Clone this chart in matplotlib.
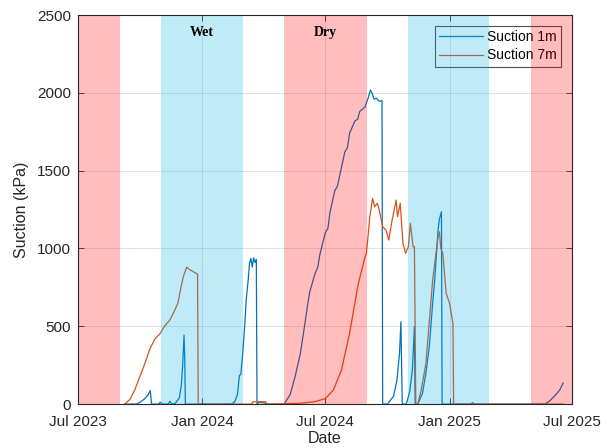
import matplotlib
matplotlib.use("Agg")
import matplotlib.pyplot as plt
import pandas as pd

# ---------------- data ----------------
s1_dates = ["2023-09-08", "2023-09-26", "2023-10-02", "2023-10-08", "2023-10-13", "2023-10-16",
            "2023-10-18", "2023-10-28", "2023-10-31", "2023-11-03", "2023-11-12", "2023-11-14",
            "2023-11-17", "2023-11-22", "2023-11-28", "2023-12-01", "2023-12-03", "2023-12-05",
            "2023-12-06", "2023-12-07", "2024-02-13", "2024-02-18", "2024-02-22", "2024-02-25",
            "2024-02-27", "2024-03-01", "2024-03-04", "2024-03-06", "2024-03-09", "2024-03-11",
            "2024-03-13", "2024-03-15", "2024-03-17", "2024-03-19", "2024-03-21", "2024-03-22",
            "2024-03-25", "2024-04-02", "2024-04-05", "2024-05-01", "2024-05-10", "2024-05-17",
            "2024-05-25", "2024-06-01", "2024-06-05", "2024-06-08", "2024-06-16", "2024-06-20",
            "2024-06-23", "2024-07-01", "2024-07-05", "2024-07-08", "2024-07-15", "2024-07-19",
            "2024-07-23", "2024-07-30", "2024-08-03", "2024-08-06", "2024-08-14", "2024-08-18",
            "2024-08-21", "2024-08-29", "2024-09-02", "2024-09-06", "2024-09-09", "2024-09-11",
            "2024-09-15", "2024-09-19", "2024-09-23", "2024-09-24", "2024-10-01", "2024-10-10",
            "2024-10-15", "2024-10-19", "2024-10-21", "2024-10-23", "2024-10-29", "2024-11-03",
            "2024-11-07", "2024-11-10", "2024-11-11", "2024-11-15", "2024-11-22", "2024-11-27",
            "2024-12-02", "2024-12-07", "2024-12-10", "2024-12-15", "2024-12-17", "2024-12-20",
            "2024-12-21", "2025-02-02", "2025-02-04", "2025-02-06", "2025-05-22", "2025-05-29",
            "2025-06-05", "2025-06-13", "2025-06-18"]
s1_vals = [0, 0, 15, 35, 60, 88,
           0, 0, 12, 0, 0, 18,
           0, 5, 40, 120, 250, 443,
           300, 0, 0, 15, 60, 185,
           190, 330, 520, 668, 800, 906,
           935, 880, 940, 910, 930, 0,
           10, 8, 0, 0, 60, 170,
           320, 520, 640, 720, 840, 880,
           960, 1100, 1130, 1230, 1370, 1400,
           1480, 1620, 1650, 1740, 1820, 1830,
           1880, 1910, 1960, 2018, 1990, 1960,
           1965, 1945, 1950, 0, 0, 50,
           150, 330, 529, 0, 0, 80,
           220, 497, 0, 0, 70, 200,
           368, 650, 797, 1118, 1190, 1236,
           0, 0, 10, 0, 0, 20,
           50, 90, 135]

s7_dates = ["2023-09-08", "2023-09-16", "2023-09-23", "2023-09-30", "2023-10-08", "2023-10-15",
            "2023-10-23", "2023-10-30", "2023-11-06", "2023-11-14", "2023-11-21", "2023-11-26",
            "2023-11-30", "2023-12-04", "2023-12-09", "2023-12-13", "2023-12-19", "2023-12-25",
            "2023-12-26", "2024-03-14", "2024-03-16", "2024-04-04", "2024-04-05", "2024-05-24",
            "2024-06-15", "2024-07-01", "2024-07-13", "2024-07-25", "2024-08-06", "2024-08-19",
            "2024-08-29", "2024-08-31", "2024-09-05", "2024-09-09", "2024-09-12", "2024-09-16",
            "2024-09-19", "2024-09-24", "2024-09-29", "2024-10-03", "2024-10-08", "2024-10-14",
            "2024-10-16", "2024-10-20", "2024-10-24", "2024-10-28", "2024-11-01", "2024-11-04",
            "2024-11-08", "2024-11-10", "2024-11-12", "2024-11-15", "2024-11-20", "2024-11-27",
            "2024-12-07", "2024-12-15", "2024-12-17", "2024-12-19", "2024-12-22", "2024-12-27",
            "2025-01-01", "2025-01-06", "2025-01-07", "2025-06-18"]
s7_vals = [0, 30, 90, 170, 260, 350,
           420, 450, 500, 540, 600, 650,
           740, 820, 880, 865, 850, 835,
           0, 0, 15, 15, 0, 5,
           15, 35, 90, 218, 455, 776,
           947, 970, 1204, 1322, 1268, 1290,
           1247, 1140, 1118, 1054, 1183, 1311,
           1204, 1290, 1033, 969, 1011, 1161,
           1011, 1011, 0, 0, 90, 261,
           797, 1075, 1107, 1000, 969, 711,
           647, 518, 0, 0]

dry_periods = [("2023-07-01", "2023-09-01"), ("2024-05-01", "2024-09-01"), ("2025-05-01", "2025-07-01")]
wet_periods = [("2023-11-01", "2024-03-01"), ("2024-11-01", "2025-03-01")]

x_ticks = ["2023-07-01", "2024-01-01", "2024-07-01", "2025-01-01", "2025-07-01"]
x_ticklabels = ["Jul 2023", "Jan 2024", "Jul 2024", "Jan 2025", "Jul 2025"]
y_ticks = [0, 500, 1000, 1500, 2000, 2500]

# ---------------- plot ----------------
plt.rcParams['font.family'] = ['Liberation Sans', 'DejaVu Sans']
fig = plt.figure(figsize=(6.09, 4.48), dpi=100)
ax = fig.add_axes([0.128, 0.098, 0.811, 0.8685])

c_blue = "#0072BD"
c_orange = "#D95319"
dark = "#262626"

ax.plot(pd.to_datetime(s1_dates), s1_vals, color=c_blue, lw=0.9, label="Suction 1m", zorder=2)
ax.plot(pd.to_datetime(s7_dates), s7_vals, color=c_orange, lw=0.9, label="Suction 7m", zorder=2)

for a, b in dry_periods:
    ax.axvspan(pd.Timestamp(a), pd.Timestamp(b), color=(1, 0, 0), alpha=0.26, lw=0, zorder=3)
for a, b in wet_periods:
    ax.axvspan(pd.Timestamp(a), pd.Timestamp(b), color=(0, 0.68, 0.9), alpha=0.25, lw=0, zorder=3)

ax.text(pd.Timestamp("2024-01-01"), 2390, "Wet", ha="center", va="center",
        fontfamily="Liberation Serif", fontweight="bold", fontsize=10, zorder=5)
ax.text(pd.Timestamp("2024-07-01"), 2390, "Dry", ha="center", va="center",
        fontfamily="Liberation Serif", fontweight="bold", fontsize=10, zorder=5)

ax.set_xlim(pd.Timestamp("2023-07-01"), pd.Timestamp("2025-07-01"))
ax.set_ylim(0, 2500)
ax.set_xticks(pd.to_datetime(x_ticks))
ax.set_xticklabels(x_ticklabels)
ax.set_yticks(y_ticks)

ax.grid(True, color=dark, alpha=0.15, lw=0.6, zorder=4)
ax.set_axisbelow(False)
for sp in ax.spines.values():
    sp.set_color(dark)
    sp.set_linewidth(0.8)
    sp.set_zorder(6)
ax.tick_params(direction="in", top=True, right=True, length=4, width=0.6,
               colors=dark, labelsize=11)
ax.tick_params(axis="y", pad=5)
ax.tick_params(axis="x", pad=8)
ax.set_ylabel("Suction (kPa)", fontsize=11.5, color=dark, labelpad=6)
ax.set_xlabel("Date", fontsize=11.5, color=dark, labelpad=1)

leg = ax.legend(loc="upper right", fontsize=10, frameon=True, fancybox=False,
                handlelength=3.2, handletextpad=0.25, borderpad=0.3, labelspacing=0.3,
                borderaxespad=0.8)
leg.get_frame().set_facecolor("none")
leg.get_frame().set_edgecolor(dark)
leg.get_frame().set_linewidth(0.8)
leg.set_zorder(1)

fig.savefig("out.png", dpi=100)
